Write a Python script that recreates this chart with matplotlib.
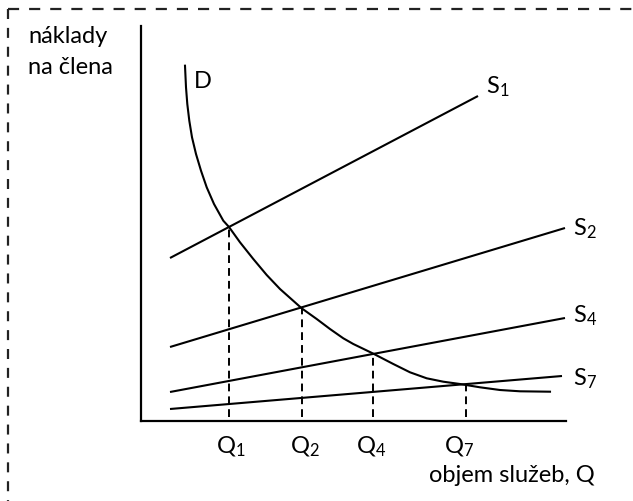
import matplotlib.pyplot as plt
from matplotlib.lines import Line2D

plt.rcParams['font.family'] = ['Lato', 'DejaVu Sans']
plt.rcParams['mathtext.fontset'] = 'custom'
plt.rcParams['mathtext.rm'] = 'Lato'
plt.rcParams['mathtext.it'] = 'Lato:italic'

# supply lines S (start / end points)
supply_names = ['S$_{\\mathrm{1}}$', 'S$_{\\mathrm{2}}$', 'S$_{\\mathrm{4}}$', 'S$_{\\mathrm{7}}$']
supply_x = [[2.9, 33.7], [2.9, 42.4], [2.9, 42.4], [2.9, 42.1]]
supply_y = [[16.3, 32.5], [7.4, 19.3], [2.9, 10.3], [1.2, 4.5]]
supply_label_pos = [(34.5, 32.9), (43.2, 18.7), (43.2, 10.0), (43.2, 3.7)]

# demand curve D
demand_x = [4.40, 4.50, 4.63, 4.83, 5.10, 5.50, 6.00, 6.57, 7.30, 8.23,
            8.80, 9.90, 11.23, 12.57, 13.90, 16.07, 17.57, 18.90, 20.23, 21.23,
            23.20, 25.23, 26.90, 28.57, 30.23, 31.90, 33.90, 35.90, 37.90, 40.90]
demand_y = [35.53, 33.37, 31.70, 30.03, 28.37, 26.70, 25.03, 23.37, 21.70, 20.03,
            19.40, 17.87, 16.20, 14.60, 13.20, 11.27, 10.20, 9.20, 8.27, 7.70,
            6.75, 5.70, 4.87, 4.27, 3.93, 3.70, 3.37, 3.10, 2.97, 2.93]

# equilibria
q_names = ['Q$_{\\mathrm{1}}$', 'Q$_{\\mathrm{2}}$', 'Q$_{\\mathrm{4}}$', 'Q$_{\\mathrm{7}}$']
q_x = [8.8, 16.1, 23.2, 32.5]
q_y = [19.4, 11.3, 6.75, 3.7]
q_label_x = [9.0, 16.4, 23.0, 31.8]

fig = plt.figure(figsize=(6.33, 5.02), dpi=100)
W, H = 633, 502
ax = fig.add_axes([141 / W, 80 / H, 425 / W, 395 / H])
ax.set_xlim(0, 42.5)
ax.set_ylim(0, 39.5)
ax.set_xticks([])
ax.set_yticks([])
ax.spines['top'].set_visible(False)
ax.spines['right'].set_visible(False)
for s in ['left', 'bottom']:
    ax.spines[s].set_linewidth(1.6)

fs = 17

for xs, ys, name, (lx, ly) in zip(supply_x, supply_y, supply_names, supply_label_pos):
    ax.plot(xs, ys, color='black', lw=1.5, solid_capstyle='butt')
    ax.text(lx, ly, name, fontsize=fs, ha='left', va='baseline')

ax.plot(demand_x, demand_y, color='black', lw=1.5, solid_joinstyle='round')
ax.text(5.3, 33.4, 'D', fontsize=fs, ha='left', va='baseline')

for qx, qy, name, lx in zip(q_x, q_y, q_names, q_label_x):
    ax.plot([qx, qx], [0.4, qy], color='black', lw=1.4, dashes=(4, 2.6))
    ax.text(lx, -3.1, name, fontsize=fs, ha='center', va='baseline')

ax.text(45.4, -6.0, 'objem služeb, Q', fontsize=fs, ha='right', va='baseline')
ax.text(-11.3, 37.9, 'náklady', fontsize=fs, ha='left', va='baseline')
ax.text(-11.3, 34.8, 'na člena', fontsize=fs, ha='left', va='baseline')

# dashed frame (top and left edges visible)
fig.add_artist(Line2D([8 / W, 1.02], [1 - 10 / H, 1 - 10 / H], color='#222222',
                      lw=1.6, dashes=(5, 4.5), transform=fig.transFigure))
fig.add_artist(Line2D([8 / W, 8 / W], [1 - 10 / H, -0.02], color='#222222',
                      lw=1.6, dashes=(4.5, 4), transform=fig.transFigure))

fig.savefig('out.png', dpi=100)
